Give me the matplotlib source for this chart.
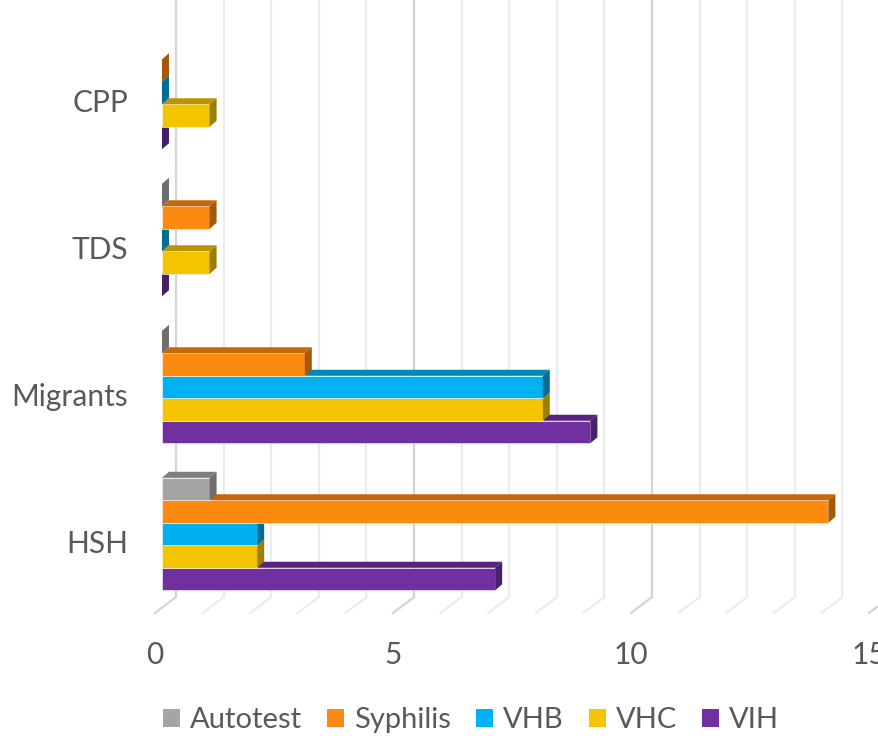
import matplotlib
matplotlib.use("Agg")
import matplotlib.pyplot as plt
from matplotlib.patches import Polygon, Patch
import numpy as np

plt.rcParams['font.family'] = ['Lato', 'DejaVu Sans']

categories = ['HSH', 'Migrants', 'TDS', 'CPP']
series = ['Autotest', 'Syphilis', 'VHB', 'VHC', 'VIH']
autotest = [1, 0, 0, np.nan]
syphilis = [14, 3, 1, 0]
vhb = [2, 8, 0, 0]
vhc = [2, 8, 1, 1]
vih = [7, 9, 0, 0]
values = [autotest, syphilis, vhb, vhc, vih]
xticks = [0, 5, 10, 15]

# front, top, side colours
colors = {
    'Autotest': ('#a5a5a5', '#7f7f7f', '#6e6e6e'),
    'Syphilis': ('#fb8a0e', '#c4680a', '#a55908'),
    'VHB': ('#00b0f0', '#0088b8', '#006d94'),
    'VHC': ('#f5c400', '#bb9500', '#9c7d00'),
    'VIH': ('#7030a0', '#56247c', '#46206a'),
}
text_col = '#595959'

fig = plt.figure(figsize=(8.79, 7.36), dpi=100)
ax = fig.add_axes([0, 0, 1, 1])
ax.set_xlim(-3.403, 15.063)
ax.set_ylim(-1.374, 3.633)
ax.axis('off')

h = 0.153          # bar thickness
dx, dy = 0.147, 0.041   # 3D depth offset
gx = 0.294          # back wall offset
floor_back, floor_front = -0.429, -0.537

# gridlines: back wall + floor
for v in range(0, 16):
    c = '#d4d4d4' if v % 5 == 0 else '#ececec'
    ax.plot([v + gx, v + gx], [floor_back, 3.7], color=c, lw=1.6, zorder=0)
    ax.plot([v + gx, v - dx], [floor_back, floor_front], color=c, lw=1.6, zorder=0)

for v in xticks:
    ax.text(v - dx, -0.823, str(v), ha='center', va='center', fontsize=21.5, color=text_col)

for i, cat in enumerate(categories):
    ax.text(-0.714, i - 0.065, cat, ha='right', va='center', fontsize=21.5, color=text_col)

# draw from bottom series to top so upper fronts cover lower top faces
for j in range(len(series) - 1, -1, -1):
    name = series[j]
    front, top, side = colors[name]
    for i in range(len(categories)):
        val = values[j][i]
        if np.isnan(val):
            continue
        yc = i + (2 - j) * h
        yb, yt = yc - h / 2, yc + h / 2
        if val > 0:
            ax.barh(yc, val, height=h, color=front, edgecolor='white', linewidth=0.4, zorder=3)
            ax.add_patch(Polygon([(0, yt), (val, yt), (val + dx, yt + dy), (dx, yt + dy)],
                                 closed=True, facecolor=top, edgecolor='none', zorder=3))
        ax.add_patch(Polygon([(val, yb), (val, yt), (val + dx, yt + dy), (val + dx, yb + dy)],
                             closed=True, facecolor=side, edgecolor='none', zorder=3))

handles = [Patch(facecolor=colors[s][0], edgecolor='none') for s in series]
fig.legend(handles, series, loc='center', bbox_to_anchor=(0.536, 1 - 720 / 736), ncol=5,
           frameon=False, fontsize=21, labelcolor=text_col, handlelength=0.58, handleheight=0.58,
           handletextpad=0.35, columnspacing=0.85)

fig.savefig('out.png', dpi=100)
